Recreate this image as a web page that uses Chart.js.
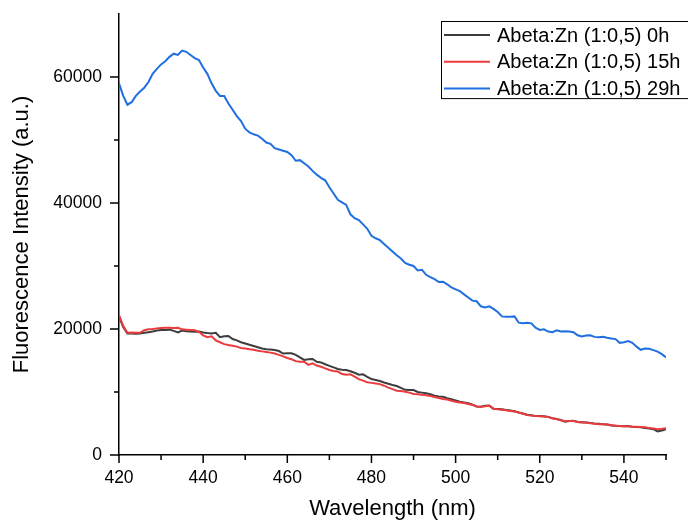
<!DOCTYPE html>
<html>
<head>
<meta charset="utf-8">
<script src="https://cdn.jsdelivr.net/npm/chart.js@4.4.1/dist/chart.umd.min.js"></script>
<style>
  html, body { margin: 0; padding: 0; background: #fff; }
  #chart-box { width: 688px; height: 524px; }
</style>
</head>
<body>
<div id="chart-box"><canvas id="myChart" width="688" height="524"></canvas></div>
<script>
// wavelengths, 1 nm steps
const wavelengths = [] ;
for (let w = 420 ; w <= 550 ; w++) wavelengths.push(w) ;

const seriesLabels = ["Abeta:Zn (1:0,5) 0h", "Abeta:Zn (1:0,5) 15h", "Abeta:Zn (1:0,5) 29h"] ;
const seriesColors = ["#3d3d3d", "#ec3b3d", "#1f6fe0"] ;

// 420..550 nm
const zn0h = [
  22000, 20300, 19300, 19300, 19250, 19300, 19400, 19500, 19600, 19750,
  19850, 19850, 19900, 19700, 19450, 19750, 19650, 19600, 19550, 19600,
  19450, 19350, 19300, 19400, 18700, 18850, 18900, 18400, 18200, 17900,
  17700, 17500, 17300, 17100, 16900, 16800, 16750, 16650, 16500, 16100,
  16150, 16150, 15900, 15500, 15100, 15200, 15250, 14800, 14700, 14400,
  14150, 13900, 13650, 13550, 13500, 13300, 13050, 12750, 12800, 12400,
  12050, 11900, 11750, 11500, 11300, 11100, 10950, 10650, 10350, 10300,
  10300, 10000, 9900, 9800, 9650, 9400, 9300, 9250, 9000, 8850,
  8650, 8450, 8350, 8200, 8000, 7700, 7650, 7800, 7850, 7350,
  7300, 7250, 7150, 7050, 6950, 6750, 6600, 6400, 6300, 6200,
  6200, 6150, 6050, 5850, 5700, 5550, 5300, 5400, 5450, 5250,
  5200, 5150, 5100, 5000, 4950, 4900, 4850, 4700, 4650, 4600,
  4550, 4600, 4500, 4450, 4400, 4300, 4200, 4100, 3750, 3900,
  4100
] ;
const zn15h = [
  22200, 20500, 19400, 19450, 19400, 19400, 19800, 19950, 20000, 20100,
  20150, 20200, 20200, 20150, 20200, 19950, 19900, 19850, 19800, 19550,
  19000, 18700, 18850, 18200, 17900, 17600, 17450, 17350, 17200, 17000,
  16900, 16800, 16700, 16550, 16450, 16350, 16250, 16100, 15900, 15650,
  15400, 15200, 14900, 14800, 14800, 14300, 14550, 14200, 14000, 13750,
  13500, 13350, 13250, 12850, 12750, 12800, 12450, 12050, 11800, 11550,
  11450, 11350, 11250, 11000, 10700, 10450, 10200, 10150, 10050, 9900,
  9700, 9650, 9550, 9500, 9350, 9200, 9050, 8900, 8800, 8600,
  8450, 8350, 8250, 8100, 7950, 7700, 7650, 7750, 7800, 7350,
  7250, 7200, 7100, 7000, 6900, 6750, 6550, 6350, 6250, 6200,
  6150, 6100, 6050, 5800, 5700, 5500, 5350, 5400, 5400, 5250,
  5150, 5150, 5050, 4950, 4900, 4900, 4850, 4750, 4650, 4600,
  4550, 4550, 4500, 4500, 4450, 4400, 4300, 4200, 4100, 4150,
  4250
] ;
const zn29h = [
  59000, 57000, 55600, 56000, 57000, 57700, 58300, 59200, 60500, 61300,
  62000, 62500, 63200, 63700, 63500, 64200, 64000, 63500, 63000, 62700,
  61500, 60500, 59000, 57800, 57000, 57000, 55800, 54800, 53800, 53000,
  51800, 51200, 50900, 50700, 50200, 49600, 49400, 48700, 48500, 48300,
  48100, 47600, 46700, 46800, 46300, 45800, 45100, 44500, 44000, 43600,
  42500, 41500, 40500, 40100, 39700, 38200, 37600, 37300, 36600, 35900,
  34800, 34400, 34100, 33500, 32900, 32300, 31700, 31200, 30500, 30200,
  30000, 29300, 29400, 28600, 28250, 27900, 27450, 27500, 27100, 26600,
  26300, 26000, 25500, 25000, 24500, 24400, 23600, 23400, 23600, 23200,
  22700, 22000, 21950, 21950, 22000, 21000, 20900, 21000, 20900, 20200,
  19850, 19950, 19600, 19500, 19800, 19600, 19650, 19600, 19500, 19000,
  18800, 18950, 19000, 18750, 18700, 18780, 18600, 18500, 18400, 17800,
  17900, 18100, 17800, 17200, 16700, 16900, 16850, 16650, 16400, 16000,
  15500
] ;

const xTickValues = [420, 440, 460, 480, 500, 520, 540] ;
const yTickValues = [0, 20000, 40000, 60000] ;

const FONT = "'Liberation Sans', Arial, sans-serif" ;

const toPoints = (ys) => ys.map((y, i) => ({ x: wavelengths[i], y: y })) ;

// minor + major ticks, pointing outward
const tickMarks = {
  id: "tickMarks",
  afterDraw(chart) {
    const ctx = chart.ctx ;
    const xs = chart.scales.x ;
    const ys = chart.scales.y ;
    ctx.save() ;
    ctx.strokeStyle = "#000" ;
    ctx.lineWidth = 1.5 ;
    ctx.beginPath() ;
    for (let v = xs.min ; v <= xs.max ; v += 10) {
      const px = xs.getPixelForValue(v) ;
      const len = xTickValues.includes(v) ? 8 : 5 ;
      ctx.moveTo(px, xs.top) ;
      ctx.lineTo(px, xs.top + len) ;
    }
    for (let v = 0 ; v < ys.max ; v += 10000) {
      const py = ys.getPixelForValue(v) ;
      const len = yTickValues.includes(v) ? 9 : 5 ;
      ctx.moveTo(ys.right, py) ;
      ctx.lineTo(ys.right - len, py) ;
    }
    ctx.stroke() ;
    ctx.restore() ;
  }
} ;

// boxed legend in the top right corner
const boxLegend = {
  id: "boxLegend",
  afterDraw(chart) {
    const ctx = chart.ctx ;
    const left = 441, top = 21, rowH = 26.7 ;
    ctx.save() ;
    ctx.fillStyle = "#fff" ;
    ctx.fillRect(left, top, 260, rowH * 3 - 3) ;
    ctx.strokeStyle = "#000" ;
    ctx.lineWidth = 1 ;
    ctx.strokeRect(left + 0.5, top + 0.5, 260, rowH * 3 - 3) ;
    ctx.font = "20px " + FONT ;
    ctx.textBaseline = "middle" ;
    chart.data.datasets.forEach((ds, i) => {
      const cy = top + 14 + i * rowH ;
      ctx.strokeStyle = ds.borderColor ;
      ctx.lineWidth = 2 ;
      ctx.beginPath() ;
      ctx.moveTo(444, cy) ;
      ctx.lineTo(490, cy) ;
      ctx.stroke() ;
      ctx.fillStyle = "#000" ;
      ctx.fillText(ds.label, 497, cy + 1) ;
    }) ;
    ctx.restore() ;
  }
} ;

const ctx = document.getElementById("myChart") ;

new Chart(ctx, {
  type: "line",
  data: {
    datasets: [
      { label: seriesLabels[0], data: toPoints(zn0h), borderColor: seriesColors[0], order: 2 },
      { label: seriesLabels[1], data: toPoints(zn15h), borderColor: seriesColors[1], order: 1 },
      { label: seriesLabels[2], data: toPoints(zn29h), borderColor: seriesColors[2], order: 0 }
    ]
  },
  options: {
    responsive: false,
    animation: false,
    datasets: {
      line: { borderWidth: 2, pointRadius: 0, tension: 0, fill: false }
    },
    layout: { padding: { top: 14, right: 22, left: 0, bottom: 0 } },
    plugins: {
      legend: { display: false },
      tooltip: { enabled: false }
    },
    scales: {
      x: {
        type: "linear",
        min: 420,
        max: 550,
        afterFit: (scale) => {
          scale.height = 69 ;
          scale.paddingLeft = 0 ;
          scale.paddingRight = 0 ;
        },
        afterBuildTicks: (scale) => { scale.ticks = xTickValues.map(v => ({ value: v })) ; },
        grid: { display: true, drawOnChartArea: false, drawTicks: false },
        border: { display: true, color: "#000", width: 1.5 },
        ticks: {
          color: "#000",
          padding: 13,
          maxRotation: 0,
          font: { family: FONT, size: 17.5 },
          callback: (v) => String(v)
        },
        title: {
          display: true,
          text: "Wavelength (nm)",
          color: "#000",
          font: { family: FONT, size: 22 },
          padding: { top: 0, bottom: 2 }
        }
      },
      y: {
        min: 0,
        max: 70000,
        afterFit: (scale) => {
          scale.width = 119 ;
          scale.paddingTop = 0 ;
          scale.paddingBottom = 0 ;
        },
        afterBuildTicks: (scale) => { scale.ticks = yTickValues.map(v => ({ value: v })) ; },
        grid: { display: true, drawOnChartArea: false, drawTicks: false },
        border: { display: true, color: "#000", width: 1.5 },
        ticks: {
          color: "#000",
          padding: 17,
          font: { family: FONT, size: 17.5 },
          callback: (v) => String(v)
        },
        title: {
          display: true,
          text: "Fluorescence Intensity (a.u.)",
          color: "#000",
          font: { family: FONT, size: 22 },
          padding: { top: 9, bottom: 0 }
        }
      }
    }
  },
  plugins: [tickMarks, boxLegend]
}) ;
</script>
</body>
</html>
